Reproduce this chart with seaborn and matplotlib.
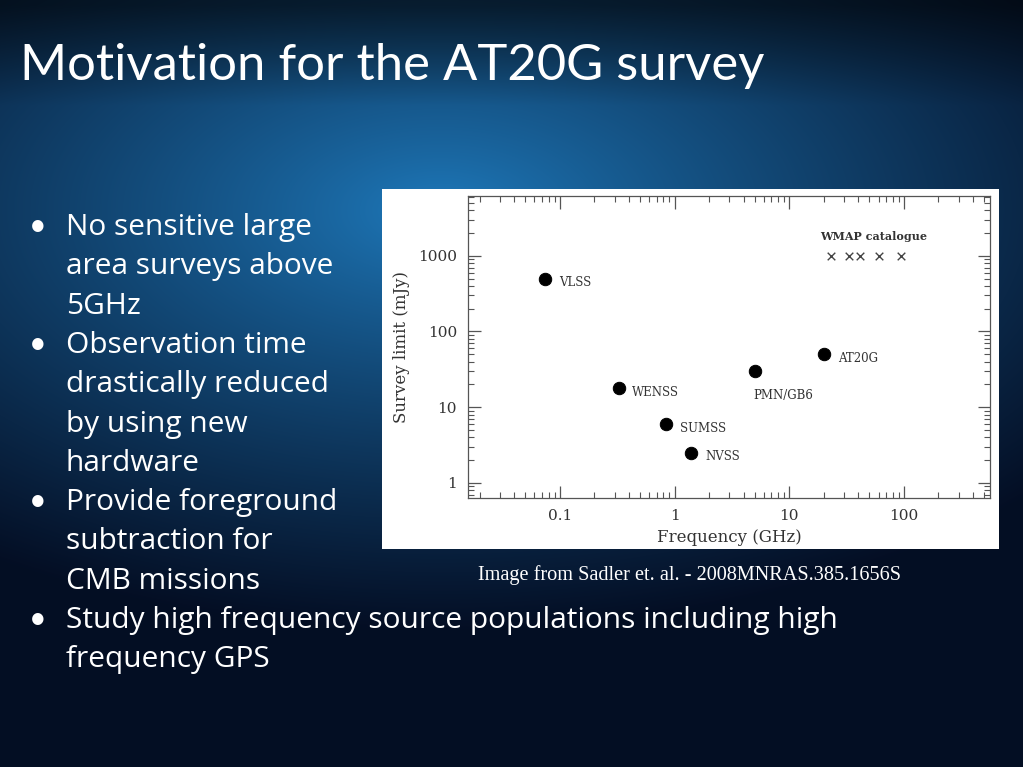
import matplotlib

matplotlib.use("Agg")
import matplotlib.pyplot as plt
import matplotlib.ticker as mticker
from matplotlib.patches import Rectangle
import numpy as np
import pandas as pd
import seaborn as sns

# Survey limits (frequency in GHz, limit in mJy)
surveys = ["VLSS", "WENSS", "SUMSS", "NVSS", "PMN/GB6", "AT20G"]
freq_ghz = [0.074, 0.325, 0.843, 1.4, 5.0, 20.0]
limit_mjy = [500, 18, 6, 2.5, 30, 50]

# WMAP catalogue bands
wmap_freq = [23, 33, 41, 61, 94]
wmap_limit = [1000, 1000, 1000, 1000, 1000]

title = "Motivation for the AT20G survey"
bullets = [
    ["No sensitive large", "area surveys above", "5GHz"],
    ["Observation time", "drastically reduced", "by using new", "hardware"],
    ["Provide foreground", "subtraction for", "CMB missions"],
    ["Study high frequency source populations including high", "frequency GPS"],
]
caption = "Image from Sadler et. al. - 2008MNRAS.385.1656S"

W, H = 1023, 767
sns.set_style("ticks")
fig = plt.figure(figsize=(W / 100, H / 100), dpi=100)

# slide background: blue radial glow fading to navy
bg = fig.add_axes([0, 0, 1, 1])
yy, xx = np.mgrid[0:H, 0:W]
t = np.sqrt(((xx - 440) / 800.0) ** 2 + ((yy - 210) / 420.0) ** 2)
t = np.clip(t, 0, 1) ** 0.85
light = np.array([0.12, 0.48, 0.74])
dark = np.array([0.015, 0.055, 0.14])
img = light * (1 - t[..., None]) + dark * t[..., None]
top = np.clip((yy - 5) / 100.0, 0, 1)[..., None]
img = img * (0.45 + 0.55 * top)
bg.imshow(img, extent=[0, W, H, 0], aspect="auto")
bg.set_xlim(0, W)
bg.set_ylim(H, 0)
bg.axis("off")

# white panel behind the plot
bg.add_patch(Rectangle((382, 189), 617, 360, facecolor="white", edgecolor="none"))

bg.text(20, 80, title, color="white", fontsize=36.5, family="Lato", va="baseline")

y = 235
for lines in bullets:
    bg.text(29, y, "\u2022", color="white", fontsize=22, family="Lato", va="baseline")
    for line in lines:
        bg.text(66, y, line, color="white", fontsize=21.5, family="Open Sans", va="baseline")
        y += 39.3

bg.text(478, 580, caption, color="white", fontsize=14.6,
        family="Liberation Serif", va="baseline")

# the plot itself
ax = fig.add_axes([468 / W, 1 - 498 / H, (990 - 468) / W, (498 - 196) / H])
ax.set_facecolor("white")
df = pd.DataFrame({"freq": freq_ghz, "limit": limit_mjy, "survey": surveys})
sns.scatterplot(data=df, x="freq", y="limit", color="black", s=80,
                edgecolor="black", ax=ax, zorder=3)
sns.scatterplot(x=wmap_freq, y=wmap_limit, marker="x", color="#444444", s=30,
                linewidth=1, ax=ax, zorder=3)

ax.set_xscale("log")
ax.set_yscale("log")
ax.set_xlim(10 ** -1.8, 10 ** 2.75)
ax.set_ylim(10 ** -0.2, 10 ** 3.79)

tc = "#333333"
for _, row in df.iterrows():
    if row["survey"] == "PMN/GB6":
        ax.annotate(row["survey"], (row["freq"], row["limit"]), xytext=(-1, -22),
                    textcoords="offset points", fontsize=8.5, family="DejaVu Serif",
                    color=tc, va="bottom")
    else:
        ax.annotate(row["survey"], (row["freq"], row["limit"]), xytext=(10, -3),
                    textcoords="offset points", fontsize=8.5, family="DejaVu Serif",
                    color=tc, va="center")
ax.annotate("WMAP catalogue", (wmap_freq[0], wmap_limit[0]), xytext=(-8, 10),
            textcoords="offset points", fontsize=8, family="DejaVu Serif",
            fontweight="bold", color=tc, va="bottom")

ax.xaxis.set_major_formatter(mticker.FuncFormatter(lambda v, p: f"{v:g}"))
ax.yaxis.set_major_formatter(mticker.FuncFormatter(lambda v, p: f"{v:g}"))
ax.xaxis.set_major_locator(mticker.LogLocator(base=10, numticks=10))
ax.yaxis.set_major_locator(mticker.LogLocator(base=10, numticks=10))
ax.xaxis.set_minor_locator(mticker.LogLocator(base=10, subs=np.arange(2, 10), numticks=10))
ax.yaxis.set_minor_locator(mticker.LogLocator(base=10, subs=np.arange(2, 10), numticks=10))
ax.xaxis.set_minor_formatter(mticker.NullFormatter())
ax.yaxis.set_minor_formatter(mticker.NullFormatter())
ax.tick_params(which="both", direction="in", top=True, right=True, color="#555555")
ax.tick_params(which="major", length=9, width=0.9, labelsize=11, labelcolor=tc, pad=8)
ax.tick_params(which="minor", length=4.5, width=0.8)
for lab in ax.get_xticklabels() + ax.get_yticklabels():
    lab.set_family("DejaVu Serif")
for sp in ax.spines.values():
    sp.set_color("#555555")
    sp.set_linewidth(0.9)

ax.set_xlabel("Frequency (GHz)", fontsize=12, family="DejaVu Serif", color=tc, labelpad=4)
ax.set_ylabel("Survey limit (mJy)", fontsize=12, family="DejaVu Serif", color=tc, labelpad=6)

fig.savefig("out.png", dpi=100)
